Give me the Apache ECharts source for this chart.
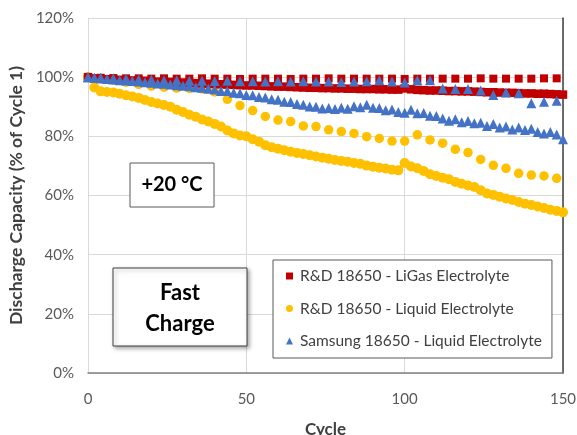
<!DOCTYPE html>
<html>
<head>
<meta charset="utf-8">
<script src="https://cdn.jsdelivr.net/npm/echarts@6/dist/echarts.min.js"></script>
<style>
html,body{margin:0;padding:0;background:#fff;}
#c{width:577px;height:435px;}
</style>
</head>
<body>
<div id="c"></div>
<script>
// Series names (legend)
var seriesNames = ['R&D 18650 - LiGas Electrolyte', 'R&D 18650 - Liquid Electrolyte', 'Samsung 18650 - Liquid Electrolyte'];
var xTicks = [0, 50, 100, 150];
var yTicks = [0, 20, 40, 60, 80, 100, 120];

// Dense cells: cycles 0,2,...,150
var denseCycles = [0,2,4,6,8,10,12,14,16,18,20,22,24,26,28,30,32,34,36,38,40,42,44,46,48,50,52,54,56,58,60,62,64,66,68,70,72,74,76,78,80,82,84,86,88,90,92,94,96,98,100,102,104,106,108,110,112,114,116,118,120,122,124,126,128,130,132,134,136,138,140,142,144,146,148,150];
var ligasDense = [100,99.6,99.4,99.3,99.2,99.1,99.0,98.9,98.8,98.8,98.6,98.5,98.5,98.4,98.3,98.2,98.1,98.0,97.9,97.8,97.7,97.6,97.5,97.4,97.3,97.2,97.2,97.1,97.0,96.9,96.8,96.8,96.7,96.6,96.5,96.4,96.4,96.3,96.3,96.2,96.2,96.1,96.1,96.0,96.0,96.0,95.9,95.9,95.8,95.8,96.2,95.9,95.7,95.6,95.5,95.5,95.4,95.3,95.3,95.2,95.2,95.1,95.0,94.9,94.9,94.8,94.7,94.7,94.6,94.5,94.5,94.4,94.4,94.3,94.2,94.1];
var liquidDense = [100,96.5,95.2,95.0,94.8,94.4,93.9,93.5,93.0,92.3,91.6,91.1,90.6,90.0,89.0,88.2,87.3,86.6,85.7,85.0,84.2,83.3,82.0,81.0,80.3,80.0,79.0,78.2,77.0,76.3,75.8,75.3,74.8,74.4,74.0,73.6,73.2,72.8,72.4,72.0,71.7,71.4,71.0,70.7,70.1,69.7,69.4,69.1,68.7,68.5,71.0,69.8,69.2,68.3,67.2,66.6,66.0,65.5,64.6,64.0,63.4,62.9,61.8,60.7,60.2,59.6,59.0,58.5,57.8,57.2,56.8,56.3,55.8,55.2,54.8,54.3];
var samsungDense = [100,99.8,99.6,99.4,99.2,99.0,98.9,98.7,98.5,98.3,98.1,97.9,97.8,97.5,97.3,97.1,96.9,96.6,96.4,96.1,95.8,95.3,95.3,94.7,94.6,94.0,93.9,93.3,93.1,92.5,92.4,91.7,91.6,90.9,90.7,90.1,90.0,89.4,89.6,89.2,89.7,89.3,90.2,89.8,90.7,89.7,89.6,88.8,89.1,88.2,88.0,89.0,87.8,87.9,87.0,86.9,86.0,85.3,85.8,84.8,85.2,84.4,84.6,83.5,84.2,83.0,83.3,82.3,83.0,82.1,82.6,81.5,81.0,81.5,80.6,79.0];

// Sparse cells: cycles 0,4,...,148
var sparseCycles = [0,4,8,12,16,20,24,28,32,36,40,44,48,52,56,60,64,68,72,76,80,84,88,92,96,100,104,108,112,116,120,124,128,132,136,140,144,148];
var ligasSparse = [100,99.8,99.7,99.6,99.6,99.5,99.6,99.5,99.5,99.6,99.5,99.5,99.4,99.5,99.5,99.5,99.4,99.5,99.5,99.6,99.5,99.5,99.5,99.5,99.5,99.4,99.5,99.5,99.5,99.5,99.5,99.6,99.5,99.5,99.5,99.5,99.6,99.6];
var liquidSparse = [100,99.5,99.0,98.3,97.6,97.0,96.6,96.3,96.2,96.0,95.0,92.5,90.4,88.7,86.7,85.5,85.0,83.5,83.3,82.2,81.6,81.0,79.9,79.3,78.4,78.4,80.5,78.8,77.7,75.6,74.5,72.2,70.2,69.2,67.5,66.9,66.6,65.8];
var samsungSparse = [100,99.8,99.6,99.5,99.3,99.2,99.0,99.0,98.8,98.8,98.7,98.8,98.6,98.6,98.5,98.6,98.5,98.6,98.5,98.5,98.4,98.5,98.6,99.0,98.5,98.2,99.0,99.0,96.2,96.0,96.0,95.5,94.0,94.8,94.6,91.2,91.7,92.0];

function pairs(xs, ys){ var out=[]; for(var i=0;i<xs.length;i++){ out.push([xs[i], ys[i]]); } return out; }

var RED='#C00000', YEL='#FFC000', BLU='#4472C4';
var font = 'Lato, "Open Sans", "Liberation Sans", sans-serif';

function sc(name, data, color, symbol, size, z){
  return {type:'scatter', name:name, data:data, symbol:symbol, symbolSize:size,
    itemStyle:{color:color, opacity:1}, z:z, silent:true, animation:false};
}

var chart = echarts.init(document.getElementById('c'), null, {renderer:'canvas'});
chart.setOption({
  animation:false,
  backgroundColor:'#fff',
  grid:{left:88, right:14, top:18, bottom:62, containLabel:false, outerBoundsMode:'none'},
  xAxis:{type:'value', min:xTicks[0], max:xTicks[xTicks.length-1], interval:50,
    name:'Cycle', nameLocation:'middle', nameGap:48,
    nameTextStyle:{fontFamily:font, fontWeight:'bold', fontSize:17, color:'#404040'},
    axisLine:{show:true, lineStyle:{color:'#808080', width:1.5}},
    axisTick:{show:false},
    axisLabel:{fontFamily:font, fontSize:15, color:'#595959', margin:19},
    splitLine:{show:true, lineStyle:{color:'#d9d9d9', width:1}}},
  yAxis:[{type:'value', min:yTicks[0], max:yTicks[yTicks.length-1], interval:20,
    name:'Discharge Capacity (% of Cycle 1)', nameLocation:'middle', nameGap:58, nameRotate:90,
    nameTextStyle:{fontFamily:font, fontWeight:'bold', fontSize:17.5, color:'#404040'},
    axisLine:{show:true, lineStyle:{color:'#d9d9d9'}},
    axisTick:{show:false},
    axisLabel:{fontFamily:font, fontSize:15, color:'#595959', margin:14, formatter:'{value}%'},
    splitLine:{show:true, lineStyle:{color:'#d9d9d9', width:1}}},
   {type:'value', position:'right', min:0, max:120, interval:20,
    axisLine:{show:true, lineStyle:{color:'#404040', width:1.5}},
    axisTick:{show:false}, axisLabel:{show:false}, splitLine:{show:false}}],
  legend:{orient:'vertical', left:273, top:260, padding:[8,10,9,13], itemGap:16.5,
    itemWidth:7, itemHeight:7, borderColor:'#595959', borderWidth:1, backgroundColor:'#fff',
    textStyle:{fontFamily:font, fontSize:15.5, lineHeight:16, color:'#404040', padding:[0,0,0,2]},
    data:[{name:seriesNames[0], icon:'rect'}, {name:seriesNames[1], icon:'circle'}, {name:seriesNames[2], icon:'triangle'}]},
  graphic:[
    {type:'rect', shape:{x:130, y:163, width:84, height:44}, style:{fill:'#fff', stroke:'#595959', lineWidth:1}, z:100},
    {type:'text', x:172, y:185, style:{text:'+20 °C', fontFamily:font, fontWeight:'bold', fontSize:20, fill:'#000', align:'center', verticalAlign:'middle'}, z:101},
    {type:'rect', shape:{x:113, y:268, width:134, height:78}, style:{fill:'#fff', stroke:'#404040', lineWidth:1, shadowBlur:4, shadowOffsetX:2, shadowOffsetY:2, shadowColor:'rgba(0,0,0,0.35)'}, z:100},
    {type:'text', x:180, y:308, style:{text:'Fast\nCharge', fontFamily:font, fontWeight:'bold', fontSize:22, lineHeight:31, fill:'#000', align:'center', verticalAlign:'middle'}, z:101}
  ],
  series:[
    sc(seriesNames[1], pairs(denseCycles, liquidDense), YEL, 'circle', 10, 2),
    sc(seriesNames[1], pairs(sparseCycles, liquidSparse), YEL, 'circle', 9.5, 2),
    sc(seriesNames[0], pairs(denseCycles, ligasDense), RED, 'rect', 8.5, 3),
    sc(seriesNames[0], pairs(sparseCycles, ligasSparse), RED, 'rect', 8, 3),
    sc(seriesNames[2], pairs(denseCycles, samsungDense), BLU, 'triangle', 10, 4),
    sc(seriesNames[2], pairs(sparseCycles, samsungSparse), BLU, 'triangle', 10, 4)
  ]
});
</script>
</body>
</html>
